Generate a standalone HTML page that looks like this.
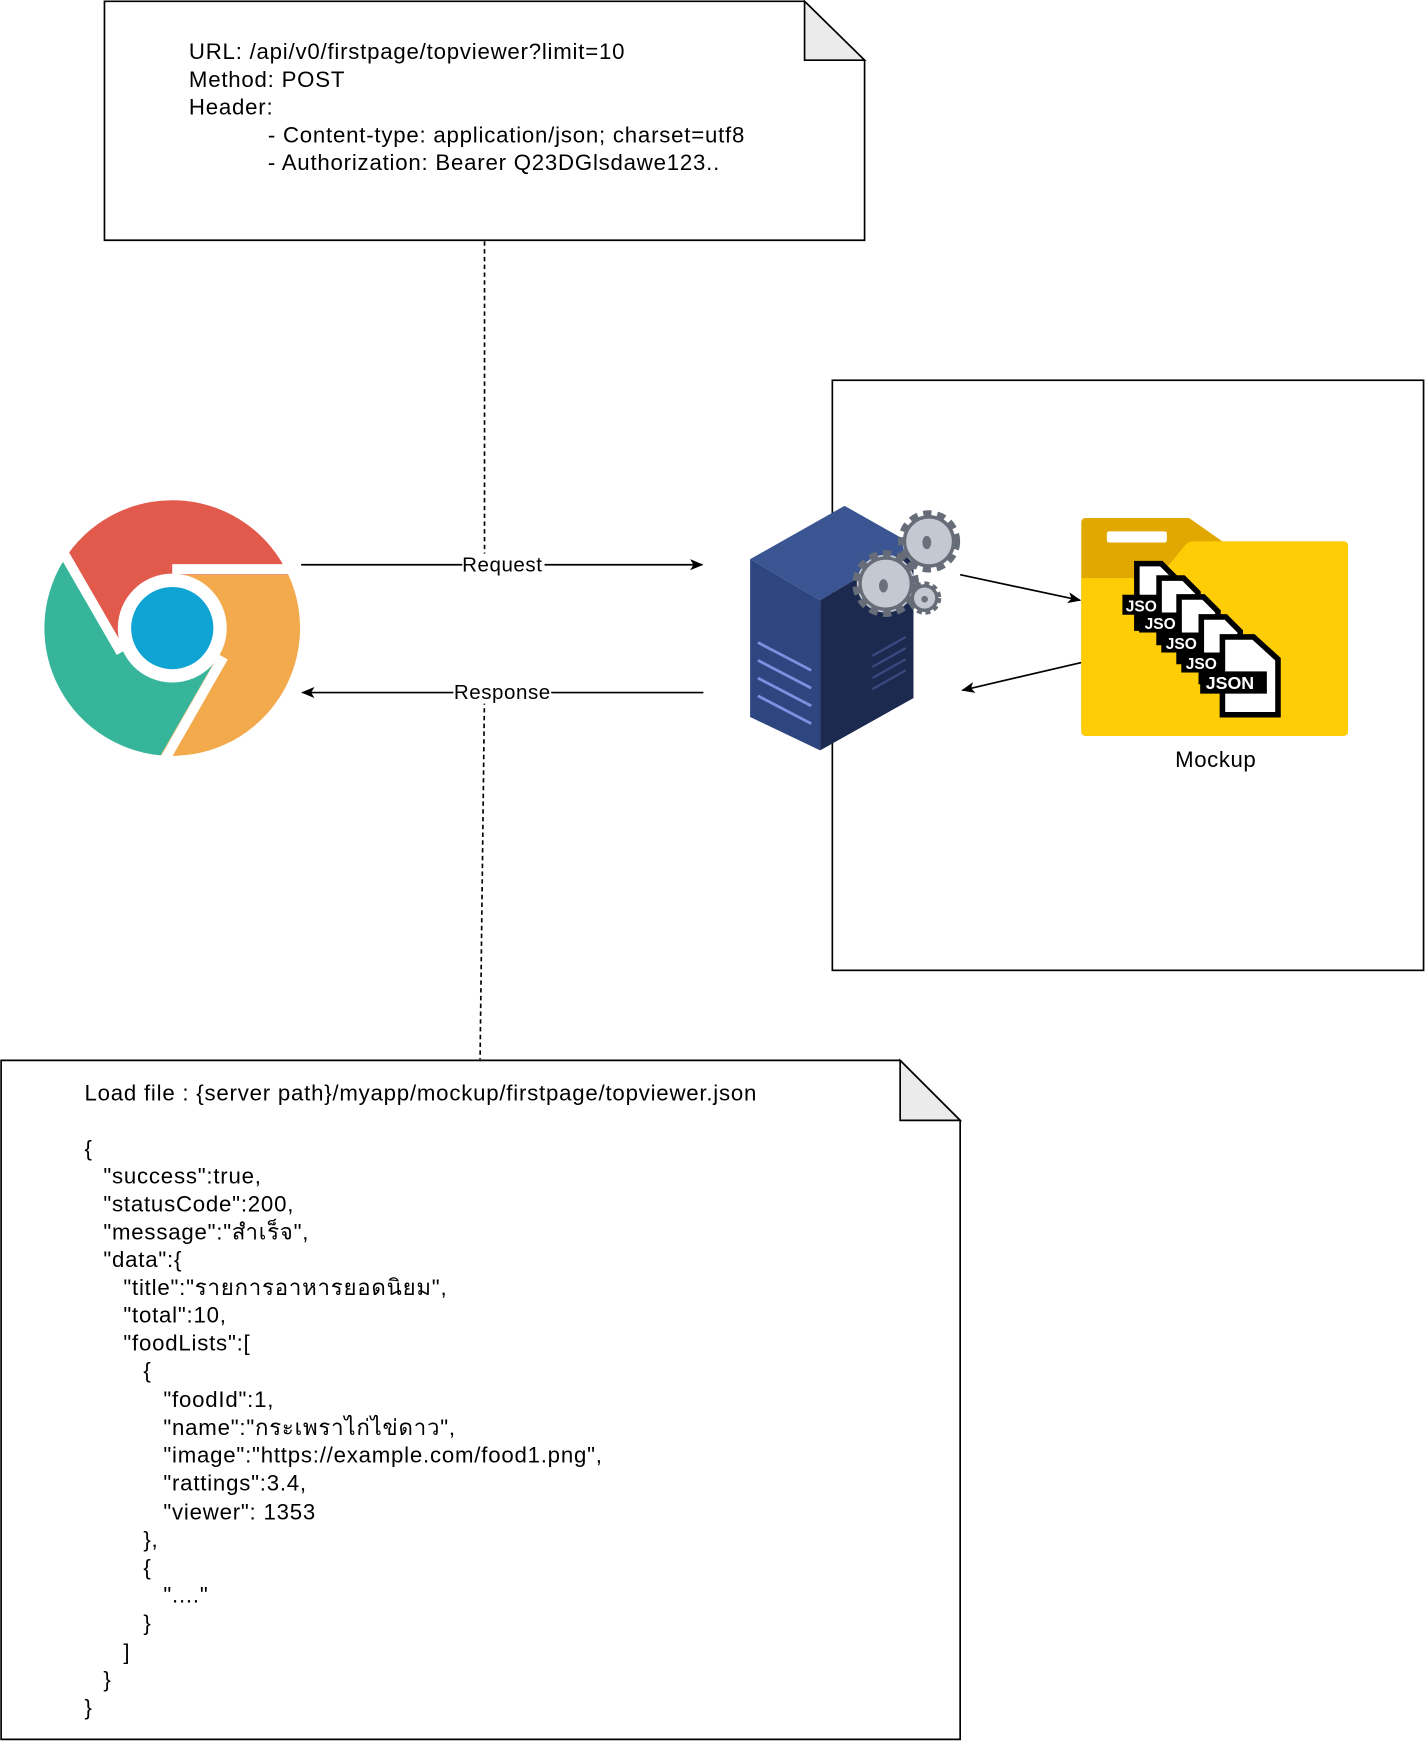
<!DOCTYPE html>
<html><head><meta charset="utf-8"><style>html,body{margin:0;padding:0;background:#fff}svg{display:block}text{font-family:"Liberation Sans","Noto Sans CJK SC",sans-serif;}</style></head>
<body>
<svg width="1428" height="1744" viewBox="0 0 1285 1569" xmlns="http://www.w3.org/2000/svg">
<defs>
<marker id="ah" markerWidth="12" markerHeight="10" refX="11" refY="5" orient="auto" markerUnits="userSpaceOnUse"><path d="M0,0 L12,5 L0,10 L3,5 Z" fill="#000"/></marker>
</defs>
<!-- top note -->
<path d="M94,1 H724 L778,54 V216 H94 Z" fill="#fff" stroke="#000" stroke-width="1.5"/>
<path d="M724,1 V54 H778 Z" fill="#ebebeb" stroke="#000" stroke-width="1.5"/>
<g font-size="20" letter-spacing="0.7" fill="#000">
<text x="170" y="53">URL: /api/v0/firstpage/topviewer?limit=10</text>
<text x="170" y="78">Method: POST</text>
<text x="170" y="103">Header:</text>
<text x="241" y="128">- Content-type: application/json; charset=utf8</text>
<text x="241" y="153">- Authorization: Bearer Q23DGlsdawe123..</text>
</g>
<!-- dashed -->
<line x1="436" y1="217" x2="436" y2="507" stroke="#000" stroke-width="1.5" stroke-dasharray="4,3"/>
<line x1="436" y1="623" x2="432" y2="953" stroke="#000" stroke-width="1.5" stroke-dasharray="4,3"/>
<!-- container -->
<rect x="749" y="342" width="532" height="531" fill="none" stroke="#000" stroke-width="1.5"/>
<!-- arrows -->
<line x1="271" y1="508" x2="632" y2="508" stroke="#000" stroke-width="1.5" marker-end="url(#ah)"/>
<line x1="633" y1="623" x2="272" y2="623" stroke="#000" stroke-width="1.5" marker-end="url(#ah)"/>
<rect x="416" y="498" width="74" height="20" fill="#fff"/>
<rect x="408" y="613" width="88" height="20" fill="#fff"/>
<text x="452" y="514" font-size="18.5" letter-spacing="0.5" text-anchor="middle">Request</text>
<text x="452" y="629" font-size="18.5" letter-spacing="0.5" text-anchor="middle">Response</text>
<line x1="864" y1="517" x2="972" y2="540" stroke="#000" stroke-width="1.5" marker-end="url(#ah)"/>
<line x1="973" y1="596" x2="866" y2="621" stroke="#000" stroke-width="1.5" marker-end="url(#ah)"/>
<!-- chrome -->
<path d="M155,517 L259.5,517 A115,115 0 0 0 61.1,498.5 L113.4,589 A48,48 0 0 1 155,517 Z" fill="#E15A4C"/>
<path d="M196.6,589 L144.4,679.5 A115,115 0 0 0 259.5,517 L155,517 A48,48 0 0 1 196.6,589 Z" fill="#F3AA4C"/>
<path d="M113.4,589 L61.1,498.5 A115,115 0 0 0 144.4,679.5 L196.6,589 A48,48 0 0 1 113.4,589 Z" fill="#36B59B"/>
<g stroke="#fff" stroke-width="9"><line x1="155" y1="512" x2="262" y2="512"/><line x1="201" y1="591" x2="149" y2="682"/><line x1="109" y1="587" x2="57" y2="497"/></g>
<circle cx="155" cy="565" r="49" fill="#fff"/>
<circle cx="155" cy="565" r="37" fill="#0FA4D4"/>
<!-- server -->
<path d="M675,503 L760,455 L822,490 L738,540 Z" fill="#3A5592"/>
<path d="M675,503 L738,540 L738,675 L675,645 Z" fill="#2E4680"/>
<path d="M738,540 L822,490 L822,628 L738,675 Z" fill="#1D2A50"/>
<g stroke="#7f8fe0" stroke-width="2.5"><line x1="682" y1="578" x2="730" y2="603"/><line x1="682" y1="594" x2="730" y2="619"/><line x1="682" y1="610" x2="730" y2="635"/><line x1="682" y1="626" x2="730" y2="651"/></g>
<g stroke="#3a4a80" stroke-width="2"><line x1="785" y1="590" x2="815" y2="573"/><line x1="785" y1="600" x2="815" y2="583"/><line x1="785" y1="610" x2="815" y2="593"/><line x1="785" y1="620" x2="815" y2="603"/></g>
<g fill="#C4C8D0" stroke="#666c78" stroke-width="3">
<circle cx="836" cy="487" r="24" stroke-dasharray="7,5" stroke-width="8"/><circle cx="836" cy="487" r="22"/>
<circle cx="797" cy="525" r="26" stroke-dasharray="7,5" stroke-width="8"/><circle cx="797" cy="525" r="23"/>
<circle cx="832" cy="538" r="12" stroke-dasharray="4,3" stroke-width="6"/><circle cx="832" cy="538" r="11"/>
</g>
<g fill="#6a707c"><ellipse cx="834" cy="488" rx="4" ry="6"/><ellipse cx="795" cy="527" rx="4" ry="6"/><circle cx="832" cy="539" r="3"/></g>
<!-- folder -->
<path d="M977,466 H1070 L1100,487 H1209 Q1213,487 1213,491 V658 Q1213,662 1209,662 H977 Q973,662 973,658 V470 Q973,466 977,466 Z" fill="#E0A800"/>
<path d="M973,520 H1042 L1066,491 Q1069,487 1074,487 H1209 Q1213,487 1213,491 V658 Q1213,662 1209,662 H977 Q973,662 973,658 Z" fill="#FFCD05"/>
<rect x="996" y="478" width="54" height="10" rx="2" fill="#fff"/>
<g stroke="#000" stroke-width="5" fill="#fff">
<path d="M1023,507 H1045 L1058,520 V565 H1023 Z"/>
<path d="M1043,520 H1065 L1078,533 V578 H1043 Z"/>
<path d="M1061,537 H1083 L1096,550 V595 H1061 Z"/>
<path d="M1081,555 H1103 L1116,568 V613 H1081 Z"/>
<path d="M1100,573 H1128 L1150,593 V643 H1100 Z"/>
</g>
<g fill="#000"><rect x="1010" y="535" width="35" height="18"/><rect x="1025" y="551" width="35" height="18"/><rect x="1045" y="569" width="35" height="18"/><rect x="1063" y="587" width="35" height="18"/><rect x="1080" y="604" width="60" height="20"/></g>
<g fill="#fff" font-size="14" font-weight="bold"><text x="1013" y="550">JSO</text><text x="1030" y="566">JSO</text><text x="1049" y="584">JSO</text><text x="1067" y="602">JSO</text><text x="1085" y="620" font-size="16">JSON</text></g>
<text x="1094" y="690" font-size="20" letter-spacing="0.5" text-anchor="middle">Mockup</text>
<!-- bottom note -->
<path d="M1,954 H810 L864,1008 V1565 H1 Z" fill="#fff" stroke="#000" stroke-width="1.5"/>
<path d="M810,954 V1008 H864 Z" fill="#ebebeb" stroke="#000" stroke-width="1.5"/>
<g font-size="20" letter-spacing="0.7" fill="#000">
<text x="76" y="990">Load file : {server path}/myapp/mockup/firstpage/topviewer.json</text>
<text x="76" y="1040">{</text>
<text x="93" y="1065">"success":true,</text>
<text x="93" y="1090">"statusCode":200,</text>
<text x="93" y="1115">"message":"สำเร็จ",</text>
<text x="93" y="1140">"data":{</text>
<text x="111" y="1165">"title":"รายการอาหารยอดนิยม",</text>
<text x="111" y="1190">"total":10,</text>
<text x="111" y="1215">"foodLists":[</text>
<text x="129" y="1240">{</text>
<text x="147" y="1266">"foodId":1,</text>
<text x="147" y="1291">"name":"กระเพราไก่ไข่ดาว",</text>
<text x="147" y="1316">"image":"https://example.com/food1.png",</text>
<text x="147" y="1341">"rattings":3.4,</text>
<text x="147" y="1367">"viewer": 1353</text>
<text x="129" y="1392">},</text>
<text x="129" y="1417">{</text>
<text x="147" y="1442">"...."</text>
<text x="129" y="1467">}</text>
<text x="111" y="1493">]</text>
<text x="93" y="1518">}</text>
<text x="76" y="1543">}</text>
</g>
</svg>
</body></html>
